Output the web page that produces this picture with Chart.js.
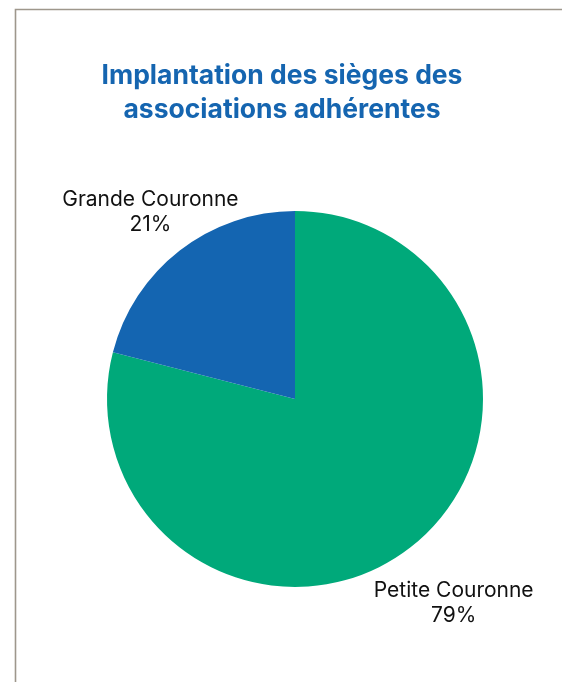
<!DOCTYPE html>
<html>
<head>
<meta charset="utf-8">
<script src="https://cdn.jsdelivr.net/npm/chart.js@4/dist/chart.umd.min.js"></script>
<style>
html,body{margin:0;padding:0;background:#fff;}
#wrap{position:relative;width:562px;height:682px;}
</style>
</head>
<body>
<div id="wrap"><canvas id="c" width="562" height="682"></canvas></div>
<script>
const titleLines = ["Implantation des sièges des", "associations adhérentes"];
const categories = ["Petite Couronne", "Grande Couronne"];
const values = [79, 21];
const colors = ["#00A97A", "#1465B1"];
const labelDistance = [1.377, 1.255];

const frame = {
  id: 'frame',
  beforeDraw(chart) {
    const ctx = chart.ctx;
    ctx.save();
    ctx.fillStyle = '#fff';
    ctx.fillRect(0, 0, chart.width, chart.height);
    ctx.strokeStyle = '#9e978c';
    ctx.lineWidth = 1.6;
    ctx.beginPath();
    ctx.moveTo(15.5, chart.height);
    ctx.lineTo(15.5, 9.5);
    ctx.lineTo(chart.width, 9.5);
    ctx.stroke();
    ctx.restore();
  }
};

const texts = {
  id: 'texts',
  afterDraw(chart) {
    const ctx = chart.ctx;
    ctx.save();
    ctx.textAlign = 'center';
    ctx.textBaseline = 'middle';
    ctx.fillStyle = '#1565B0';
    ctx.font = 'bold 26.5px Inter';
    ctx.fillText(titleLines[0], 282, 76);
    ctx.fillText(titleLines[1], 282, 110);
    const meta = chart.getDatasetMeta(0);
    ctx.fillStyle = '#111';
    ctx.font = '21px Inter';
    meta.data.forEach((arc, i) => {
      const p = arc.getProps(['x','y','startAngle','endAngle','outerRadius'], true);
      const mid = (p.startAngle + p.endAngle) / 2;
      const r = p.outerRadius * labelDistance[i];
      const x = p.x + Math.cos(mid) * r;
      const y = p.y + Math.sin(mid) * r;
      ctx.fillText(categories[i], x, y - 12.5);
      ctx.fillText(values[i] + '%', x, y + 12.5);
    });
    ctx.restore();
  }
};

new Chart(document.getElementById('c'), {
  type: 'pie',
  data: {
    labels: categories,
    datasets: [{ data: values, backgroundColor: colors, borderWidth: 0 }]
  },
  options: {
    responsive: false,
    animation: false,
    layout: { padding: { left: 107, right: 79, top: 211, bottom: 95 } },
    plugins: { legend: { display: false }, title: { display: false }, tooltip: { enabled: false } }
  },
  plugins: [frame, texts]
});
</script>
</body>
</html>
